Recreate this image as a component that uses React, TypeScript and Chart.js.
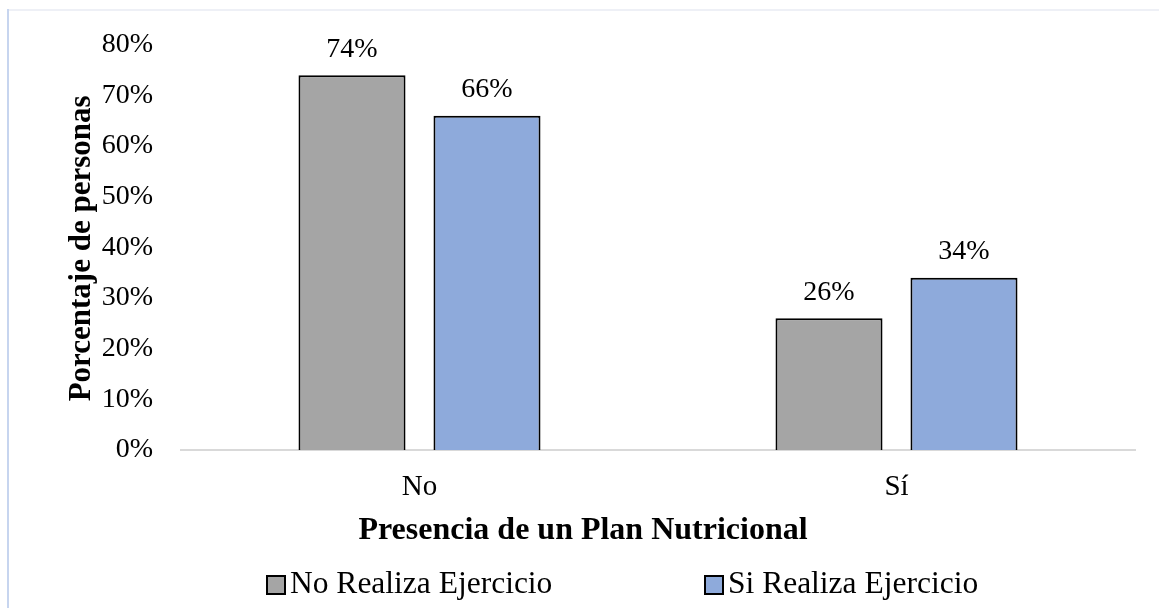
import React, { useEffect, useRef } from "react";
import { Chart, registerables } from "chart.js";

Chart.register(...registerables);

// Chart data
const categories = ["No", "Sí"];
const noRealizaValues = [74, 26];
const siRealizaValues = [66, 34];
const seriesLabels = ["No Realiza Ejercicio", "Si Realiza Ejercicio"];
const yTickValues = [0, 10, 20, 30, 40, 50, 60, 70, 80];
const xAxisTitle = "Presencia de un Plan Nutricional";
const yAxisTitle = "Porcentaje de personas";

const seriesColors = ["#a5a5a5", "#8eaadb"];

const WIDTH = 1159;
const HEIGHT = 608;
const SERIF = '"Liberation Serif", "Times New Roman", serif';

// Background, outer frame, value labels, axis titles and legend
const decorations = {
  id: "decorations",
  beforeDraw(chart: any) {
    const { ctx } = chart;
    ctx.save();
    ctx.fillStyle = "#ffffff";
    ctx.fillRect(0, 0, chart.width, chart.height);
    // frame edges
    ctx.fillStyle = "#eef0f6";
    ctx.fillRect(8, 9, chart.width - 8, 2);
    ctx.fillStyle = "#c7d5ef";
    ctx.fillRect(7, 9, 2, chart.height - 9);
    ctx.restore();
  },
  afterDatasetsDraw(chart: any) {
    const { ctx } = chart;
    ctx.save();
    ctx.fillStyle = "#000000";
    ctx.font = `28px ${SERIF}`;
    ctx.textAlign = "center";
    ctx.textBaseline = "middle";
    chart.data.datasets.forEach((ds: any, di: number) => {
      const meta = chart.getDatasetMeta(di);
      meta.data.forEach((bar: any, i: number) => {
        ctx.fillText(`${ds.data[i]}%`, bar.x, bar.y - 26);
      });
    });
    ctx.restore();
  },
  afterDraw(chart: any) {
    const { ctx, chartArea } = chart;
    ctx.save();
    ctx.fillStyle = "#000000";

    // x axis title
    ctx.font = `bold 32px ${SERIF}`;
    ctx.textAlign = "center";
    ctx.textBaseline = "middle";
    ctx.fillText(xAxisTitle, 583, 531);

    // y axis title
    ctx.font = `bold 31px ${SERIF}`;
    ctx.save();
    ctx.translate(82, (chartArea.top + chartArea.bottom) / 2 + 1);
    ctx.rotate(-Math.PI / 2);
    ctx.fillText(yAxisTitle, 0, 0);
    ctx.restore();

    // legend
    const legendY = 585;
    const itemLefts = [267, 705];
    ctx.font = `31.5px ${SERIF}`;
    ctx.textAlign = "left";
    seriesLabels.forEach((label, i) => {
      const x = itemLefts[i];
      ctx.fillStyle = seriesColors[i];
      ctx.fillRect(x, legendY - 9, 18, 18);
      ctx.strokeStyle = "#000000";
      ctx.lineWidth = 2;
      ctx.strokeRect(x, legendY - 9, 18, 18);
      ctx.fillStyle = "#000000";
      ctx.fillText(label, x + 23, legendY);
    });
    ctx.restore();
  },
};

export default function App() {
  const canvasRef = useRef<HTMLCanvasElement | null>(null);

  useEffect(() => {
    const canvas = canvasRef.current;
    if (!canvas) return;
    const chart = new Chart(canvas, {
      type: "bar",
      data: {
        labels: categories,
        datasets: [
          {
            label: seriesLabels[0],
            data: noRealizaValues,
            backgroundColor: seriesColors[0],
            borderColor: "#000000",
            borderWidth: 2,
            borderSkipped: "bottom",
            categoryPercentage: 0.566,
            barPercentage: 0.793,
          },
          {
            label: seriesLabels[1],
            data: siRealizaValues,
            backgroundColor: seriesColors[1],
            borderColor: "#000000",
            borderWidth: 2,
            borderSkipped: "bottom",
            categoryPercentage: 0.566,
            barPercentage: 0.793,
          },
        ],
      },
      plugins: [decorations],
      options: {
        animation: false,
        responsive: false,
        devicePixelRatio: 1,
        layout: { padding: { left: 0, right: 24, top: 41, bottom: 0 } },
        plugins: {
          legend: { display: false },
          tooltip: { enabled: false },
          title: { display: false },
        },
        scales: {
          x: {
            grid: { display: false, drawTicks: false },
            border: { display: true, color: "#d9d9d9", width: 2 },
            ticks: {
              padding: 20,
              color: "#000000",
              font: { family: SERIF, size: 29 },
            },
            afterFit: (scale: any) => {
              scale.height = HEIGHT - 450;
            },
          },
          y: {
            min: 0,
            max: 80,
            grid: { display: false, drawTicks: false },
            border: { display: false },
            afterBuildTicks: (scale: any) => {
              scale.ticks = yTickValues.map((v) => ({ value: v }));
            },
            ticks: {
              padding: 28,
              color: "#000000",
              font: { family: SERIF, size: 28 },
              callback: (v: any) => `${v}%`,
            },
            afterFit: (scale: any) => {
              scale.width = 181;
            },
          },
        },
      },
    });
    return () => chart.destroy();
  }, []);

  return (
    <div style={{ position: "fixed", left: 0, top: 0, width: WIDTH, height: HEIGHT, background: "#ffffff" }}>
      <canvas ref={canvasRef} width={WIDTH} height={HEIGHT} style={{ display: "block" }} />
    </div>
  );
}
